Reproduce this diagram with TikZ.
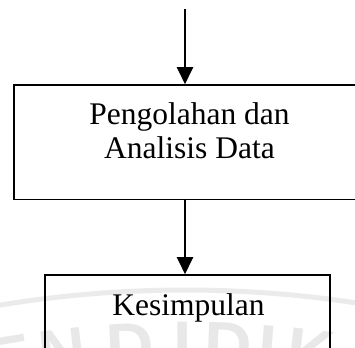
\documentclass[tikz,border=0pt]{standalone}
\usepackage{fontspec}
\setmainfont{Liberation Serif}
\newfontfamily\wmfont{Liberation Sans}
\usetikzlibrary{arrows.meta,calc}

\tikzset{
  flowbox/.style={draw=black, line width=1.6pt, fill=none, inner sep=0pt},
  flowtext/.style={inner sep=0pt, anchor=base, font=\fontsize{31.5}{34}\selectfont},
  flowarrow/.style={draw=black, line width=2.4pt,
    -{Triangle[width=16pt,length=17pt]}, shorten >=0pt},
  wmletter/.style={inner sep=0pt, text=black!9, font=\wmfont\bfseries\fontsize{66}{66}\selectfont},
}

\begin{document}
\begin{tikzpicture}[x=1pt, y=-1pt]
  \useasboundingbox (0,0) rectangle (355,347);

  % faint background emblem: arc band with curved lettering
  \coordinate (wmc) at (185,1430);
  \draw[black!8, line width=5pt] ($(wmc)+(259:1140)$) arc[start angle=259, end angle=281, radius=1140];
  \foreach \ch/\px in {E/8, N/62, D/130, I/183, D/228, I/268, K/312} {
    \pgfmathsetmacro{\ang}{270+(\px-185)/1090*57.2958}
    \pgfmathsetmacro{\rot}{270-\ang}
    \node[wmletter, rotate=\rot] at ($(wmc)+(\ang:1085)$) {\ch};
  }

  % process boxes
  \node[flowbox, minimum width=348pt, minimum height=114.5pt] (proc) at (188,142.25) {};
  \node[flowtext] (procA) at (189.5,124.3) {Pengolahan dan};
  \node[flowtext] (procB) at (189.5,158.3) {Analisis Data};

  \node[flowbox, minimum width=285pt, minimum height=130pt] (kes) at (187.5,340) {};
  \node[flowtext] (kesT) at (188.5,315) {Kesimpulan};

  % connectors
  \coordinate (start) at (185,9);
  \draw[flowarrow] (start) -- (start |- proc.north);
  \draw[flowarrow] (start |- proc.south) -- (start |- kes.north);
\end{tikzpicture}
\end{document}
